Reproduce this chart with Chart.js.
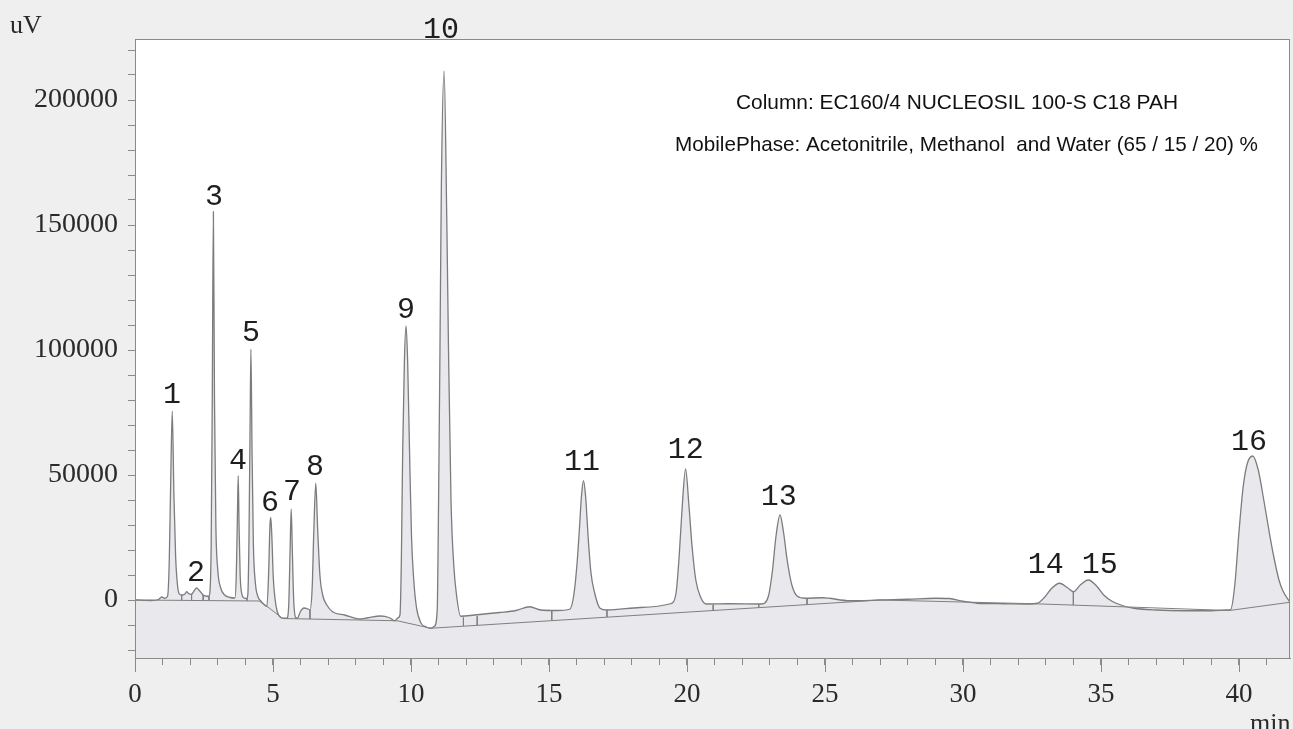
<!DOCTYPE html>
<html>
<head>
<meta charset="utf-8">
<title>Chromatogram</title>
<script src="https://cdn.jsdelivr.net/npm/chart.js@4.4.1/dist/chart.umd.min.js"></script>
<style>
  html, body { margin: 0; padding: 0; background: #efefef; }
  canvas { display: block; }
</style>
</head>
<body>
<canvas id="chrom" width="1293" height="729"></canvas>
<script>
// signal trace (min, uV)
const times = [
  0, 0.6, 0.85, 0.97, 1.08, 1.18, 1.24, 1.29, 1.35, 1.41, 1.47, 1.53, 1.6,
  1.69, 1.8, 1.87, 1.95, 2.05, 2.15, 2.23, 2.33, 2.47, 2.6, 2.68,
  2.72, 2.76, 2.8, 2.84, 2.88, 2.93, 3.0, 3.1, 3.25, 3.45,
  3.62, 3.67, 3.71, 3.74, 3.77, 3.81, 3.87, 3.95, 4.05,
  4.09, 4.13, 4.17, 4.2, 4.24, 4.29, 4.36, 4.45, 4.55, 4.65,
  4.78, 4.84, 4.89, 4.92, 4.96, 5.01, 5.08, 5.15, 5.28, 5.4, 5.5,
  5.57, 5.62, 5.66, 5.7, 5.75, 5.82, 5.88, 6.0, 6.12, 6.25, 6.34,
  6.42, 6.48, 6.55, 6.62, 6.7, 6.8, 6.95, 7.17, 7.6, 8.15, 8.4, 8.9, 9.2, 9.42, 9.52,
  9.6, 9.65, 9.7, 9.76, 9.82, 9.88, 9.95, 10.02, 10.1, 10.2, 10.35, 10.55, 10.72, 10.85,
  10.95, 11.0, 11.05, 11.1, 11.2, 11.3, 11.36, 11.45, 11.55, 11.65, 11.8,
  12.3, 13.2, 13.8, 14.3, 14.7, 15.3, 15.75,
  15.9, 16.02, 16.1, 16.18, 16.25, 16.33, 16.42, 16.52, 16.65, 16.85, 17.1,
  18.3, 19.4, 19.6, 19.72, 19.82, 19.95, 20.07, 20.18, 20.32, 20.5, 20.7,
  21.5, 22.7, 22.95, 23.1, 23.22, 23.37, 23.5, 23.63, 23.8, 24.0, 24.3, 24.9,
  25.9, 27.0, 28.0, 29.0, 29.5, 30.0, 30.5, 31.5, 32.4, 32.7,
  32.95, 33.2, 33.5, 33.8, 34.0, 34.25, 34.54, 34.85, 35.1, 35.4, 35.8, 36.2,
  37.0, 38.0, 39.0, 39.55, 39.7, 39.85, 40.0, 40.15, 40.3, 40.5, 40.7, 40.9,
  41.1, 41.25, 41.45, 41.6, 41.85
];
const signal = [
  0, -200, 200, 1200, 700, 1500, 15000, 45000, 75500, 42000, 18000, 7000, 2500,
  2000, 2300, 3300, 2500, 2300, 3800, 4800, 3800, 2000, 1500, 1500,
  4000, 22000, 80000, 155300, 80000, 30000, 12000, 5000, 2000, 1000,
  800, 10000, 33000, 49700, 30000, 10000, 2500, 800, 600,
  2500, 25000, 70000, 100300, 60000, 22000, 7000, 1500, -300, -1500,
  -2500, 10000, 30000, 33000, 25000, 9000, 0, -4500, -7000, -7300, -7300,
  -2000, 20000, 36300, 20000, 0, -7000, -7300, -4500, -3200, -3500, -4000,
  5000, 28000, 46700, 28000, 10000, 2000, -2000, -4800, -6000, -7600, -7200, -6400, -7000, -8300, -7200,
  -6000, 15000, 60000, 95000, 109600, 95000, 58000, 25000, 8000, -3000, -9000, -10800, -11300, -10500,
  -4000, 40000, 100000, 165000, 211600, 150000, 100000, 40000, 14000, 2000, -6500,
  -6000, -5000, -4200, -2700, -4000, -4200, -3700,
  2000, 15000, 28000, 42000, 47700, 41000, 25000, 11000, 3000, -3300, -4000,
  -3000, -1500, 2500, 18000, 36000, 52400, 38000, 22000, 8000, 1000, -1600,
  -1500, -1600, 1500, 12000, 25000, 34000, 27000, 16000, 6000, 1500, 700, 900,
  -300, 0, 300, 700, 600, -500, -1300, -1500, -1600, -1300,
  1000, 4500, 6700, 4800, 3300, 6000, 8000, 5500, 2000, -500, -2300, -3300,
  -4000, -4300, -4300, -4000, -3800, 6000, 27000, 45000, 54500, 57600, 52000, 40000,
  27000, 18000, 8000, 3500, -900
];

// integration baseline
const baseTimes = [0, 4.5, 4.78, 5.35, 9.5, 10.72, 27.0, 32.6, 39.65, 41.85];
const baseValues = [0, -400, -2500, -7400, -8300, -11300, 0, -1500, -4200, -900];

// peak separation marks
const dropTimes = [1.69, 2.05, 2.47, 2.68, 4.06, 6.34, 11.9, 12.4, 15.1, 17.1, 20.95, 22.6, 24.35, 34.0];
const dropTop = [2000, 2300, 2000, 1500, 600, -4000, -7000, -6500, -4200, -4000, -1900, -1600, 700, 3300];
const dropBottom = [0, 0, 0, 0, -300, -7600, -10400, -10100, -8000, -6800, -4200, -3000, -1800, -2000];

// peak numbers and where their text sits
const peakNames = ['1', '2', '3', '4', '5', '6', '7', '8', '9', '10', '11', '12', '13', '14', '15', '16'];
const labelTimes = [1.34, 2.21, 2.86, 3.73, 4.2, 4.89, 5.69, 6.52, 9.82, 11.09, 16.2, 19.96, 23.33, 33.0, 34.96, 40.36];
const labelValues = [82000, 10800, 161200, 55600, 106800, 38800, 43200, 53200, 116000, 228000, 55200, 60000, 41200, 14000, 14000, 63200];

// axis ranges and ticks
const xRange = [0, 41.85];
const yRange = [-23200, 224400];
const xTickValues = [];
for (let v = 0; v <= 41; v++) xTickValues.push(v);
const yTickValues = [];
for (let v = -20000; v <= 220000; v += 10000) yTickValues.push(v);
const xMajor = 5;
const yMajor = 50000;

const noteLines = [
  'Column: EC160/4 NUCLEOSIL 100-S C18 PAH',
  'MobilePhase: Acetonitrile, Methanol  and Water (65 / 15 / 20) %'
];

const serif = '"Liberation Serif", "DejaVu Serif", serif';
const frameColor = '#8a8a8a';

const traceData = times.map((t, i) => ({ x: t, y: signal[i] }));
const baseData = baseTimes.map((t, i) => ({ x: t, y: baseValues[i] }));
const dropData = [];
dropTimes.forEach((t, i) => {
  dropData.push({ x: t, y: dropTop[i] }, { x: t, y: dropBottom[i] }, { x: t, y: null });
});

const decor = {
  id: 'decor',
  beforeDraw(chart) {
    const { ctx, chartArea: a } = chart;
    ctx.save();
    ctx.fillStyle = '#efefef';
    ctx.fillRect(0, 0, chart.width, chart.height);
    ctx.fillStyle = '#ffffff';
    ctx.fillRect(a.left, a.top, a.right - a.left, a.bottom - a.top);
    ctx.restore();
  },
  afterDraw(chart) {
    const { ctx, chartArea: a } = chart;
    const xs = chart.scales.x, ys = chart.scales.y;
    ctx.save();
    // frame
    ctx.strokeStyle = frameColor;
    ctx.lineWidth = 1;
    ctx.strokeRect(a.left + 0.5, a.top + 0.5, a.right - a.left - 1, a.bottom - a.top);
    // longer major ticks on the time axis
    ctx.beginPath();
    xTickValues.filter(v => v % xMajor === 0).forEach(v => {
      const px = Math.round(xs.getPixelForValue(v)) + 0.5;
      ctx.moveTo(px, a.bottom);
      ctx.lineTo(px, a.bottom + 14);
    });
    ctx.stroke();
    // peak numbers
    ctx.fillStyle = '#1e1e1e';
    ctx.font = '30px "Liberation Mono", "DejaVu Sans Mono", monospace';
    ctx.textAlign = 'center';
    ctx.textBaseline = 'middle';
    peakNames.forEach((n, i) => {
      ctx.fillText(n, xs.getPixelForValue(labelTimes[i]), ys.getPixelForValue(labelValues[i]));
    });
    // method note
    ctx.font = '21px "Liberation Sans", Arial, sans-serif';
    ctx.fillStyle = '#111';
    ctx.textAlign = 'left';
    ctx.fillText(noteLines[0], 736, 103, 442);
    ctx.fillText(noteLines[1], 675, 145, 583);
    // axis units
    ctx.font = '26px ' + serif;
    ctx.fillStyle = '#2a2a2a';
    ctx.textBaseline = 'alphabetic';
    ctx.fillText('uV', 10, 33);
    ctx.fillText('min', 1250, 731);
    ctx.restore();
  }
};

new Chart(document.getElementById('chrom'), {
  type: 'line',
  data: {
    datasets: [
      {
        data: baseData,
        borderColor: '#808080',
        borderWidth: 1,
        fill: false,
        pointRadius: 0,
        order: 0
      },
      {
        data: dropData,
        borderColor: '#808080',
        borderWidth: 1,
        fill: false,
        pointRadius: 0,
        spanGaps: false,
        order: 1
      },
      {
        data: traceData,
        borderColor: '#7c7c7c',
        borderWidth: 1.3,
        backgroundColor: '#e8e8ed',
        fill: 'start',
        pointRadius: 0,
        cubicInterpolationMode: 'monotone',
        order: 2
      }
    ]
  },
  options: {
    responsive: false,
    animation: false,
    layout: { padding: { top: 39, right: 3, left: 0, bottom: 0 } },
    plugins: { legend: { display: false }, tooltip: { enabled: false } },
    scales: {
      x: {
        type: 'linear',
        min: xRange[0],
        max: xRange[1],
        afterFit(s) { s.height = 71; },
        afterBuildTicks(s) { s.ticks = xTickValues.map(v => ({ value: v })); },
        border: { color: frameColor },
        grid: { drawOnChartArea: false, tickLength: 7, tickColor: frameColor },
        ticks: {
          autoSkip: false,
          maxRotation: 0,
          padding: 14,
          color: '#2a2a2a',
          font: { family: serif, size: 27 },
          callback: v => (v % xMajor === 0 ? String(v) : '')
        }
      },
      y: {
        type: 'linear',
        min: yRange[0],
        max: yRange[1],
        afterFit(s) { s.width = 135; },
        afterBuildTicks(s) { s.ticks = yTickValues.map(v => ({ value: v })); },
        border: { color: frameColor },
        grid: { drawOnChartArea: false, tickLength: 7, tickColor: frameColor },
        ticks: {
          autoSkip: false,
          padding: 10,
          color: '#2a2a2a',
          font: { family: serif, size: 28 },
          callback: v => (v % yMajor === 0 ? String(v) : '')
        }
      }
    }
  },
  plugins: [decor]
});
</script>
</body>
</html>
